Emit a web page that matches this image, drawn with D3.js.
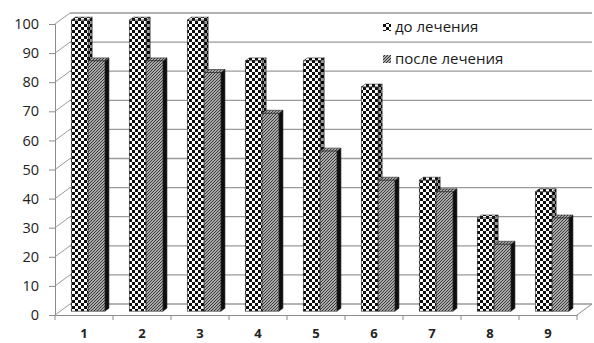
<!DOCTYPE html>
<html>
<head>
<meta charset="utf-8">
<script src="https://cdn.jsdelivr.net/npm/d3@7"></script>
<style>
  html, body { margin: 0; padding: 0; background: #fff; }
  svg { display: block; }
</style>
</head>
<body>
<svg id="chart" width="594" height="343"></svg>
<script>
// Data
const categories = ["1", "2", "3", "4", "5", "6", "7", "8", "9"];
const seriesNames = ["до лечения", "после лечения"];
const beforeValues = [100, 100, 100, 86, 86, 77, 45, 32, 41];
const afterValues = [86, 86, 82, 68, 55, 45, 41, 23, 32];
const yTicks = [0, 10, 20, 30, 40, 50, 60, 70, 80, 90, 100];

const svg = d3.select("#chart");

// Front plane of the 3D box
const x = d3.scaleBand().domain(categories).range([55, 577]).paddingInner(0).paddingOuter(0);
const y = d3.scaleLinear().domain([0, 100]).range([315, 24]);
// Full depth offset of the box (front -> back wall)
const DEPTH = { dx: 15, dy: -11 };
const off = t => ({ dx: DEPTH.dx * t, dy: DEPTH.dy * t });

// Patterns
const defs = svg.append("defs");
const checker = defs.append("pattern").attr("id", "checker")
  .attr("patternUnits", "userSpaceOnUse").attr("width", 6).attr("height", 6);
checker.append("rect").attr("width", 6).attr("height", 6).attr("fill", "#fff");
checker.append("rect").attr("x", 0).attr("y", 0).attr("width", 3).attr("height", 3).attr("fill", "#111");
checker.append("rect").attr("x", 3).attr("y", 3).attr("width", 3).attr("height", 3).attr("fill", "#111");

const checkerDark = defs.append("pattern").attr("id", "checkerDark")
  .attr("patternUnits", "userSpaceOnUse").attr("width", 6).attr("height", 6);
checkerDark.append("rect").attr("width", 6).attr("height", 6).attr("fill", "#999");
checkerDark.append("rect").attr("x", 0).attr("y", 0).attr("width", 3).attr("height", 3).attr("fill", "#000");
checkerDark.append("rect").attr("x", 3).attr("y", 3).attr("width", 3).attr("height", 3).attr("fill", "#000");

const hatch = defs.append("pattern").attr("id", "hatch")
  .attr("patternUnits", "userSpaceOnUse").attr("width", 3).attr("height", 3);
hatch.append("rect").attr("width", 3).attr("height", 3).attr("fill", "#d8d8d8");
hatch.append("path").attr("d", "M-1,1 L1,-1 M0,3 L3,0 M2,4 L4,2")
  .attr("stroke", "#333").attr("stroke-width", 1.1);

const soft = defs.append("filter").attr("id", "soft");
soft.append("feGaussianBlur").attr("stdDeviation", 0.35);

const gridColor = "#9a9a9a";
const axisColor = "#8c8c8c";
const font = "'Open Sans', 'DejaVu Sans', sans-serif";

// Back-wall gridlines and left-wall diagonals
const back = off(1);
const walls = svg.append("g");
walls.selectAll("line.grid").data(yTicks.filter(v => v > 0)).join("line")
  .attr("class", "grid")
  .attr("x1", x.range()[0] + back.dx).attr("x2", x.range()[1] + back.dx)
  .attr("y1", d => y(d) + back.dy).attr("y2", d => y(d) + back.dy)
  .attr("stroke", gridColor).attr("stroke-width", 1.3);
walls.selectAll("line.diag").data(yTicks).join("line")
  .attr("class", "diag")
  .attr("x1", x.range()[0]).attr("x2", x.range()[0] + back.dx)
  .attr("y1", d => y(d)).attr("y2", d => y(d) + back.dy)
  .attr("stroke", gridColor).attr("stroke-width", 1);
// Floor outline
walls.append("line")
  .attr("x1", x.range()[0] + back.dx).attr("x2", x.range()[1] + back.dx)
  .attr("y1", y(0) + back.dy).attr("y2", y(0) + back.dy)
  .attr("stroke", gridColor).attr("stroke-width", 1.3);
walls.append("line")
  .attr("x1", x.range()[1]).attr("x2", x.range()[1] + back.dx)
  .attr("y1", y(0)).attr("y2", y(0) + back.dy)
  .attr("stroke", axisColor).attr("stroke-width", 1);

// Y axis
const yAxis = d3.axisLeft(y).tickValues(yTicks).tickSize(6).tickPadding(10);
const gy = svg.append("g").attr("transform", `translate(${x.range()[0]},0)`).call(yAxis);
gy.select(".domain").attr("stroke", axisColor);
gy.selectAll(".tick line").attr("stroke", axisColor);
gy.selectAll(".tick text").attr("fill", "#222")
  .style("font-family", font).style("font-size", "14.5px");

// X axis (front floor edge)
const xAxis = d3.axisBottom(x).tickSize(0).tickPadding(14);
const gx = svg.append("g").attr("transform", `translate(0,${y(0)})`).call(xAxis);
gx.select(".domain").attr("stroke", axisColor);
gx.selectAll(".tick text").attr("fill", "#222")
  .style("font-family", font)
  .style("font-size", "13px").style("font-weight", "bold");
gx.selectAll("line.cat").data(categories.concat(["end"])).join("line")
  .attr("class", "cat")
  .attr("x1", (d, i) => x.range()[0] + i * x.bandwidth())
  .attr("x2", (d, i) => x.range()[0] + i * x.bandwidth())
  .attr("y1", 0).attr("y2", 5)
  .attr("stroke", axisColor);

// 3D bars
const T0 = 0.35, T1 = 0.62;           // front and back depth of the bars
const o0 = off(T0), o1 = off(T1);
const bw = x.bandwidth();
const seriesDefs = [
  { values: beforeValues, start: 0.19, width: 0.29, front: "url(#checker)", side: "url(#checkerDark)", top: "url(#checker)" },
  { values: afterValues,  start: 0.48, width: 0.29, front: "url(#hatch)",   side: "#111",              top: "url(#hatch)" }
];

const barsG = svg.append("g").attr("filter", "url(#soft)");
categories.forEach((c, i) => {
  seriesDefs.forEach(s => {
    const v = s.values[i];
    const xl = x(c) + s.start * bw;
    const xr = xl + s.width * bw;
    const yt = y(v), yb = y(0);
    const g = barsG.append("g");
    // right side face
    g.append("path")
      .attr("d", `M${xr + o0.dx},${yt + o0.dy} L${xr + o1.dx},${yt + o1.dy} L${xr + o1.dx},${yb + o1.dy} L${xr + o0.dx},${yb + o0.dy} Z`)
      .attr("fill", s.side).attr("stroke", "#222").attr("stroke-width", 0.6);
    // top face
    g.append("path")
      .attr("d", `M${xl + o0.dx},${yt + o0.dy} L${xr + o0.dx},${yt + o0.dy} L${xr + o1.dx},${yt + o1.dy} L${xl + o1.dx},${yt + o1.dy} Z`)
      .attr("fill", s.top).attr("stroke", "#222").attr("stroke-width", 0.6);
    // front face
    g.append("rect")
      .attr("x", xl + o0.dx).attr("y", yt + o0.dy)
      .attr("width", xr - xl).attr("height", yb - yt)
      .attr("fill", s.front).attr("stroke", "#222").attr("stroke-width", 0.6);
  });
});

// Legend
const legend = svg.append("g").attr("transform", "translate(383,0)");
const legendRows = [
  { name: seriesNames[0], fill: "url(#checker)", cy: 27 },
  { name: seriesNames[1], fill: "url(#hatch)", cy: 59 }
];
legendRows.forEach(r => {
  legend.append("rect").attr("x", 0).attr("y", r.cy - 4).attr("width", 8).attr("height", 8)
    .attr("fill", r.fill);
  legend.append("text").attr("x", 12).attr("y", r.cy).attr("dy", "0.35em")
    .attr("fill", "#1a1a1a")
    .style("font-family", font).style("font-size", "15px")
    .text(r.name);
});
</script>
</body>
</html>
